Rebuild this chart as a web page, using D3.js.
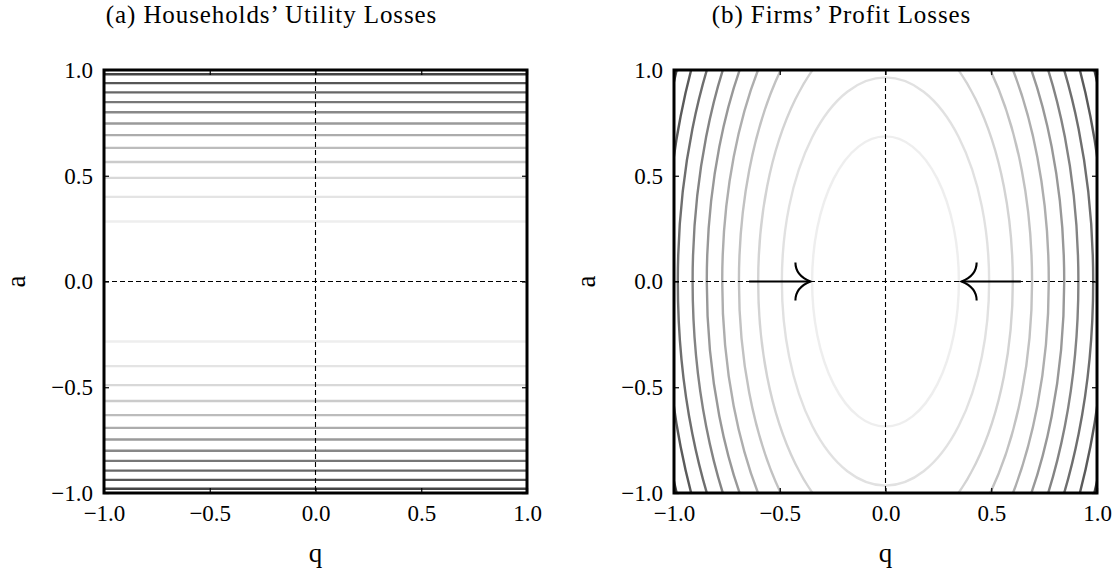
<!DOCTYPE html>
<html>
<head>
<meta charset="utf-8">
<script src="https://cdnjs.cloudflare.com/ajax/libs/d3/7.8.5/d3.min.js"></script>
<style>
body { margin: 0; background: #fff; }
svg { display: block; font-family: "Liberation Serif", "DejaVu Serif", serif; }
.tick text { font-size: 23px; fill: #000; }
.tick line { stroke: #000; stroke-width: 1.2; }
.panelTitle { font-size: 25px; letter-spacing: 0.9px; text-anchor: middle; }
.axisLabel { font-size: 27px; text-anchor: middle; }
.frame { fill: none; stroke: #000; stroke-width: 3; }
.zeroLine { stroke: #000; stroke-width: 1.1; stroke-dasharray: 5,3; }
.level { fill: none; stroke-width: 2.4; }
.arrow { fill: none; stroke: #000; stroke-width: 2.1; }
</style>
</head>
<body>
<svg id="chart" width="1118" height="574"></svg>
<script>

// tick values and labels, same on both panels
var qTicks = [-1, -0.5, 0, 0.5, 1];
var aTicks = [-1, -0.5, 0, 0.5, 1];
var tickLabels = ["\u22121.0", "\u22120.5", "0.0", "0.5", "1.0"];

var titles = ["(a) Households\u2019 Utility Losses", "(b) Firms\u2019 Profit Losses"];

// (a) |a| of each flat level line, innermost first (drawn at +a and -a)
var householdLevels = [0.284, 0.400, 0.490, 0.565, 0.632, 0.692, 0.747, 0.800, 0.848, 0.894, 0.938, 0.980];

// (b) semi-axes of each elliptic level curve, innermost first
var firmQRadius = [0.347, 0.490, 0.602, 0.693, 0.772, 0.845, 0.912, 0.982, 1.042, 1.102];
var firmARadius = [0.686, 0.965, 1.220, 1.430, 1.600, 1.730, 1.860, 1.960, 2.120, 2.250];

// (b) arrows along a = 0, start and tip in q
var arrowStart = [-0.645, 0.640];
var arrowTip = [-0.355, 0.360];

/**
 * One square panel with frame, inward ticks, dashed zero lines
 */
function Panel(svg, left, index){
    var self = this;
    self.size = 423;
    self.top = 70;
    self.index = index;

    self.x = d3.scaleLinear().domain([-1, 1]).range([0, self.size]);
    self.y = d3.scaleLinear().domain([-1, 1]).range([self.size, 0]);

    self.g = svg.append("g").attr("transform", "translate(" + left + "," + self.top + ")");

    self.g.append("clipPath").attr("id", "clip" + index)
        .append("rect").attr("width", self.size).attr("height", self.size);
    self.plot = self.g.append("g").attr("clip-path", "url(#clip" + index + ")");
};

// grey for level i out of n, light inside to dark outside
Panel.prototype.levelColor = function(i, n){
    return d3.interpolateGreys(0.13 + 0.66 * i / (n - 1));
};

Panel.prototype.finish = function(){
    var self = this;
    var s = self.size;

    //dashed lines at q = 0 and a = 0
    self.plot.append("line").attr("class", "zeroLine")
        .attr("x1", self.x(0)).attr("x2", self.x(0)).attr("y1", 0).attr("y2", s);
    self.plot.append("line").attr("class", "zeroLine")
        .attr("x1", 0).attr("x2", s).attr("y1", self.y(0)).attr("y2", self.y(0));
};

Panel.prototype.axes = function(){
    var self = this;
    var s = self.size;
    var fmt = function(d){ return tickLabels[qTicks.indexOf(d)]; };

    var bottom = self.g.append("g").attr("transform", "translate(0," + s + ")")
        .call(d3.axisBottom(self.x).tickValues(qTicks).tickFormat(fmt).tickSize(-5).tickSizeOuter(0).tickPadding(12));
    var leftAx = self.g.append("g")
        .call(d3.axisLeft(self.y).tickValues(aTicks).tickFormat(function(d){ return tickLabels[aTicks.indexOf(d)]; })
            .tickSize(-5).tickSizeOuter(0).tickPadding(11));
    var topAx = self.g.append("g")
        .call(d3.axisTop(self.x).tickValues(qTicks).tickFormat("").tickSize(-5).tickSizeOuter(0));
    var rightAx = self.g.append("g").attr("transform", "translate(" + s + ",0)")
        .call(d3.axisRight(self.y).tickValues(aTicks).tickFormat("").tickSize(-5).tickSizeOuter(0));
    [bottom, leftAx, topAx, rightAx].forEach(function(a){
        a.select(".domain").remove();
        a.attr("font-family", null).attr("font-size", null);
    });

    self.g.append("rect").attr("class", "frame").attr("width", s).attr("height", s);

    self.g.append("text").attr("class", "axisLabel")
        .attr("x", self.x(0)).attr("y", s + 69).text("q");
    self.g.append("text").attr("class", "axisLabel")
        .attr("transform", "translate(-79," + self.y(0) + ") rotate(-90)").text("a");
    self.g.append("text").attr("class", "panelTitle")
        .attr("x", self.x(0) - 44).attr("y", -47).text(titles[self.index]);
};

var svg = d3.select("#chart");

// (a) Households' utility losses: flat level lines
var pa = new Panel(svg, 104, 0);
householdLevels.forEach(function(v, i){
    [v, -v].forEach(function(a){
        pa.plot.append("line").attr("class", "level")
            .attr("x1", pa.x(-1)).attr("x2", pa.x(1))
            .attr("y1", pa.y(a)).attr("y2", pa.y(a))
            .attr("stroke", pa.levelColor(i, householdLevels.length));
    });
});
pa.finish();
pa.axes();

// (b) Firms' profit losses: elliptic level curves
var pb = new Panel(svg, 674, 1);
pb.plot.selectAll("ellipse").data(firmQRadius).enter().append("ellipse")
    .attr("class", "level")
    .attr("cx", pb.x(0)).attr("cy", pb.y(0))
    .attr("rx", function(d){ return pb.x(d) - pb.x(0); })
    .attr("ry", function(d, i){ return pb.y(0) - pb.y(firmARadius[i]); })
    .attr("stroke", function(d, i){ return pb.levelColor(i, firmQRadius.length); });
pb.finish();

// arrows pointing in toward q = 0, barbs curving out from the tip
arrowStart.forEach(function(q0, i){
    var tx = pb.x(arrowTip[i]), ty = pb.y(0);
    var dir = q0 < arrowTip[i] ? 1 : -1;
    pb.g.append("line").attr("class", "arrow")
        .attr("x1", pb.x(q0)).attr("x2", tx).attr("y1", ty).attr("y2", ty);
    var ex = tx - dir * 15;
    pb.g.append("path").attr("class", "arrow")
        .attr("d", "M" + ex + "," + (ty - 19) + " Q" + ex + "," + (ty - 6) + " " + tx + "," + ty +
                   " Q" + ex + "," + (ty + 6) + " " + ex + "," + (ty + 19));
});
pb.axes();

</script>
</body>
</html>
